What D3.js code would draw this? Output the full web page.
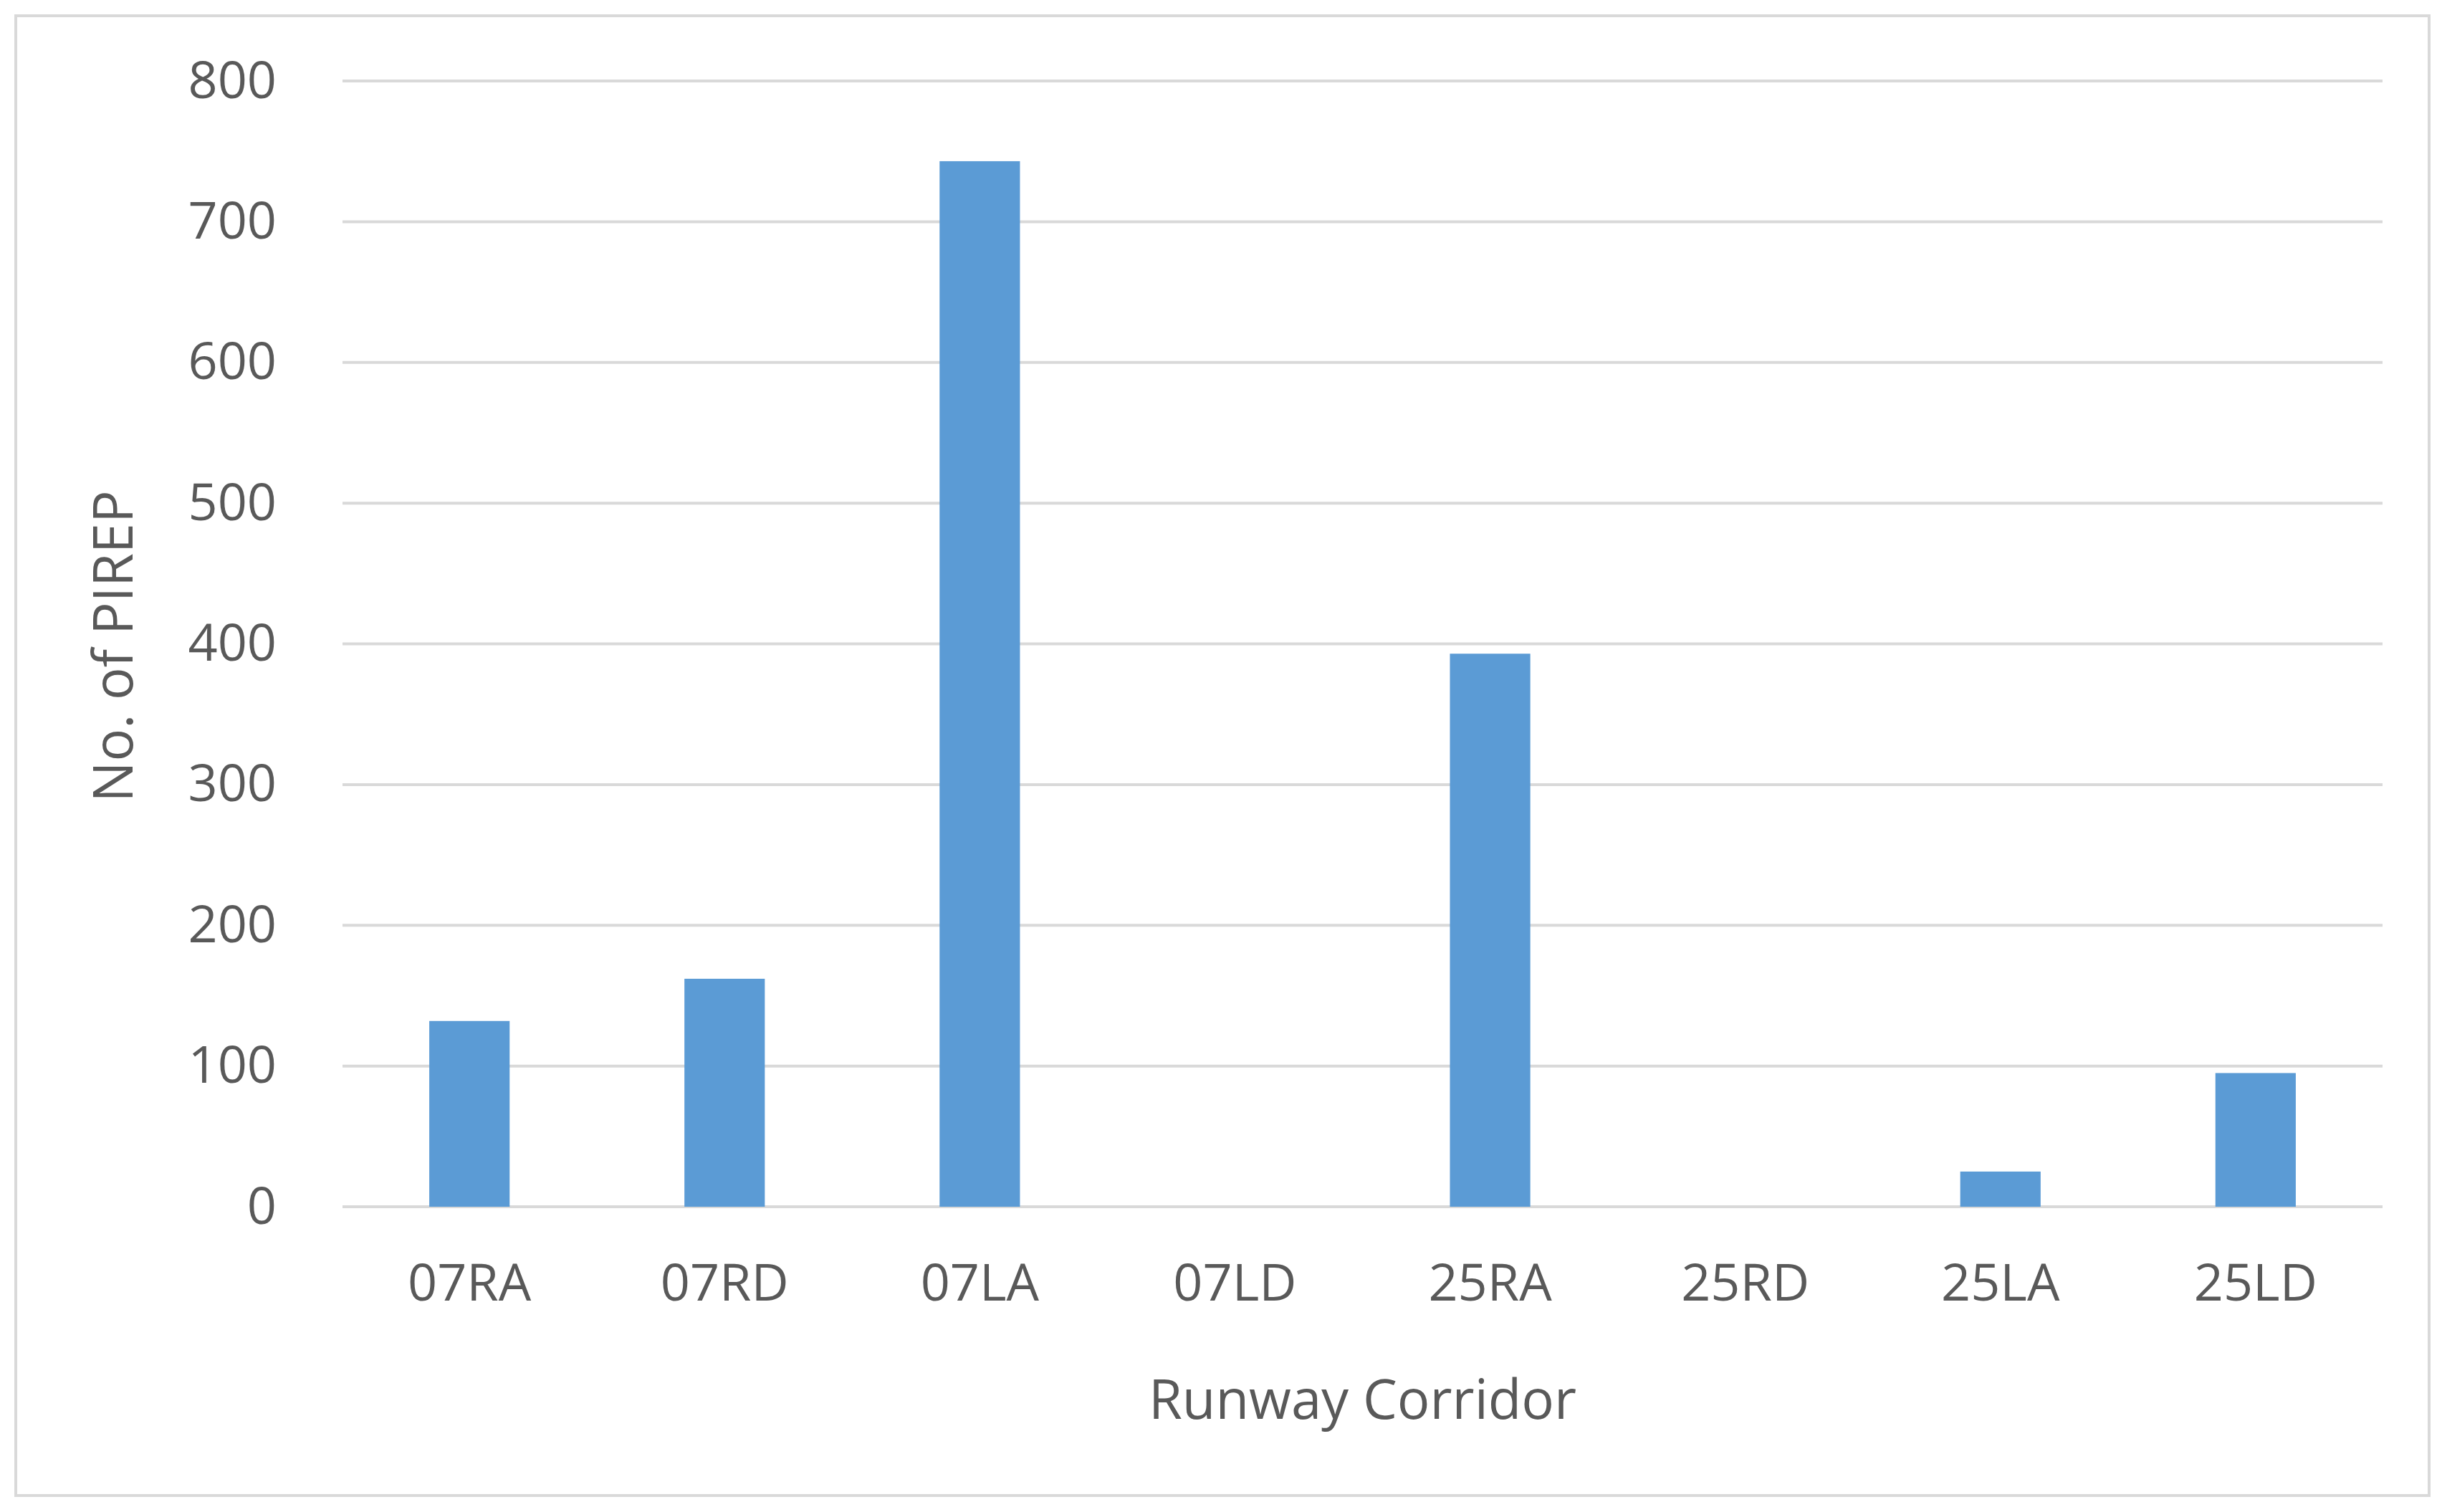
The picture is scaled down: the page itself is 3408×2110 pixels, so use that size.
<!DOCTYPE html>
<html>
<head>
<meta charset="utf-8">
<script src="https://cdn.jsdelivr.net/npm/d3@7"></script>
<style>
body{margin:0;background:#fff;}
text{font-family:"Open Sans",sans-serif;fill:#595959;}
</style>
</head>
<body>
<script>
const categories=['07RA','07RD','07LA','07LD','25RA','25RD','25LA','25LD'];
const values=[132,162,743,0,393,0,25,95];
const yTicks=[0,100,200,300,400,500,600,700,800];

const width=3408,height=2110;
const plotLeft=478,plotRight=3325,plotTop=113,plotBottom=1684;

const svg=d3.select('body').append('svg').attr('width',width).attr('height',height);

svg.append('rect').attr('x',22).attr('y',22).attr('width',3368).attr('height',2065)
  .attr('fill','#fff').attr('stroke','#d9d9d9').attr('stroke-width',4);

const x=d3.scaleBand().domain(categories).range([plotLeft,plotRight]).paddingInner(0.685).paddingOuter(0.34);
const y=d3.scaleLinear().domain([0,800]).range([plotBottom,plotTop]);

svg.append('g').selectAll('line').data(yTicks).enter().append('line')
  .attr('x1',plotLeft).attr('x2',plotRight).attr('y1',d=>y(d)).attr('y2',d=>y(d))
  .attr('stroke','#d9d9d9').attr('stroke-width',4);

svg.append('g').selectAll('rect').data(values).enter().append('rect')
  .attr('x',(d,i)=>x(categories[i])).attr('width',x.bandwidth())
  .attr('y',d=>y(d)).attr('height',d=>plotBottom-y(d)).attr('fill','#5b9bd5');

const yAxis=svg.append('g').attr('transform',`translate(${plotLeft},0)`)
  .call(d3.axisLeft(y).tickValues(yTicks).tickSize(0).tickPadding(92));
yAxis.select('.domain').remove();
yAxis.selectAll('text').style('font-size','72px').style('fill','#595959').style('font-family','"Open Sans",sans-serif');

const xAxis=svg.append('g').attr('transform',`translate(0,${plotBottom})`)
  .call(d3.axisBottom(x).tickSize(0).tickPadding(80));
xAxis.select('.domain').remove();
xAxis.selectAll('text').style('font-size','72px').style('fill','#595959').style('font-family','"Open Sans",sans-serif');

svg.append('text').attr('x',(plotLeft+plotRight)/2).attr('y',1980).attr('text-anchor','middle')
  .style('font-size','76px').text('Runway Corridor');
svg.append('text').attr('transform','translate(185,902) rotate(-90)').attr('text-anchor','middle')
  .style('font-size','76px').text('No. of PIREP');
</script>
</body>
</html>
